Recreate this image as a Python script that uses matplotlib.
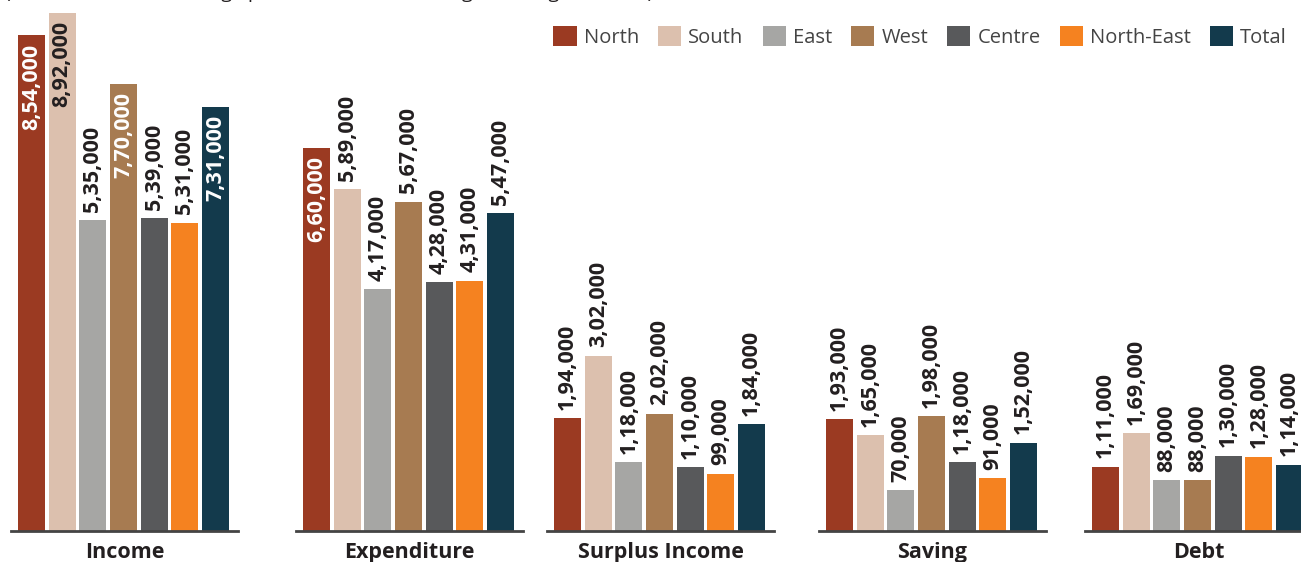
import numpy as np
import matplotlib.pyplot as plt
from matplotlib.patches import Patch

plt.rcParams['font.family'] = ['Open Sans', 'DejaVu Sans']

# regions and their colours
regions = ['North', 'South', 'East', 'West', 'Centre', 'North-East', 'Total']
colors = ['#9B3A22', '#DCC0AE', '#A6A6A4', '#A77B51', '#58595B', '#F58220', '#133A4C']

groups = ['Income', 'Expenditure', 'Surplus Income', 'Saving', 'Debt']

income = [854000, 892000, 535000, 770000, 539000, 531000, 731000]
expenditure = [660000, 589000, 417000, 567000, 428000, 431000, 547000]
surplus = [194000, 302000, 118000, 202000, 110000, 99000, 184000]
saving = [193000, 165000, 70000, 198000, 118000, 91000, 152000]
debt = [111000, 169000, 88000, 88000, 130000, 128000, 114000]
values = [income, expenditure, surplus, saving, debt]


def indian_format(n):
    # 854000 -> 8,54,000
    s = str(int(n))
    if len(s) <= 3:
        return s
    head, tail = s[:-3], s[-3:]
    parts = []
    while len(head) > 2:
        parts.insert(0, head[-2:])
        head = head[:-2]
    if head:
        parts.insert(0, head)
    return ','.join(parts) + ',' + tail


W, H = 1301, 562
fig = plt.figure(figsize=(W / 100, H / 100), dpi=100)

# left edge of each group panel, pixels
lefts = [11, 296, 547, 819, 1085]
x = np.arange(len(regions))

for left, name, vals in zip(lefts, groups, values):
    ax = fig.add_axes([left / W, 31 / H, 227 / W, 531 / H])
    bars = ax.bar(x, vals, width=0.88, color=colors)
    ax.set_xlim(-0.67, 6.73)
    ax.set_ylim(0, 914400)
    for side in ['top', 'left', 'right']:
        ax.spines[side].set_visible(False)
    ax.spines['bottom'].set_linewidth(2)
    ax.spines['bottom'].set_color('#444444')
    ax.set_xticks([])
    ax.set_yticks([])
    ax.patch.set_alpha(0)

    for xi, v, c in zip(x, vals, colors):
        label = indian_format(v)
        if v > 600000:
            tc = '#231F20' if c == '#DCC0AE' else 'white'
            ax.annotate(label, (xi, v), xytext=(0, -6), textcoords='offset points',
                        rotation=90, ha='center', va='top', color=tc,
                        fontsize=15.5, fontweight='bold')
        else:
            ax.annotate(label, (xi, v), xytext=(0, 6), textcoords='offset points',
                        rotation=90, ha='center', va='bottom', color='#231F20',
                        fontsize=15.5, fontweight='bold')

    ax.text(0.5, -0.02, name, transform=ax.transAxes, ha='center', va='top',
            fontsize=15.5, fontweight='bold', color='#231F20')

handles = [Patch(facecolor=c) for c in colors]
fig.legend(handles, regions, ncol=7, loc='upper right',
           bbox_to_anchor=(1305 / W, 1 - 8 / H), frameon=False,
           fontsize=14.5, handlelength=1.15, handleheight=1.15,
           handletextpad=0.35, columnspacing=0.95, labelcolor='#444444')

fig.text(5 / W, 1 + 2 / H, '(Annual amounts, average per household in the region, all figures in Rs)',
         ha='left', va='baseline', fontsize=14, color='#231F20')

fig.savefig('out.png', dpi=100)
